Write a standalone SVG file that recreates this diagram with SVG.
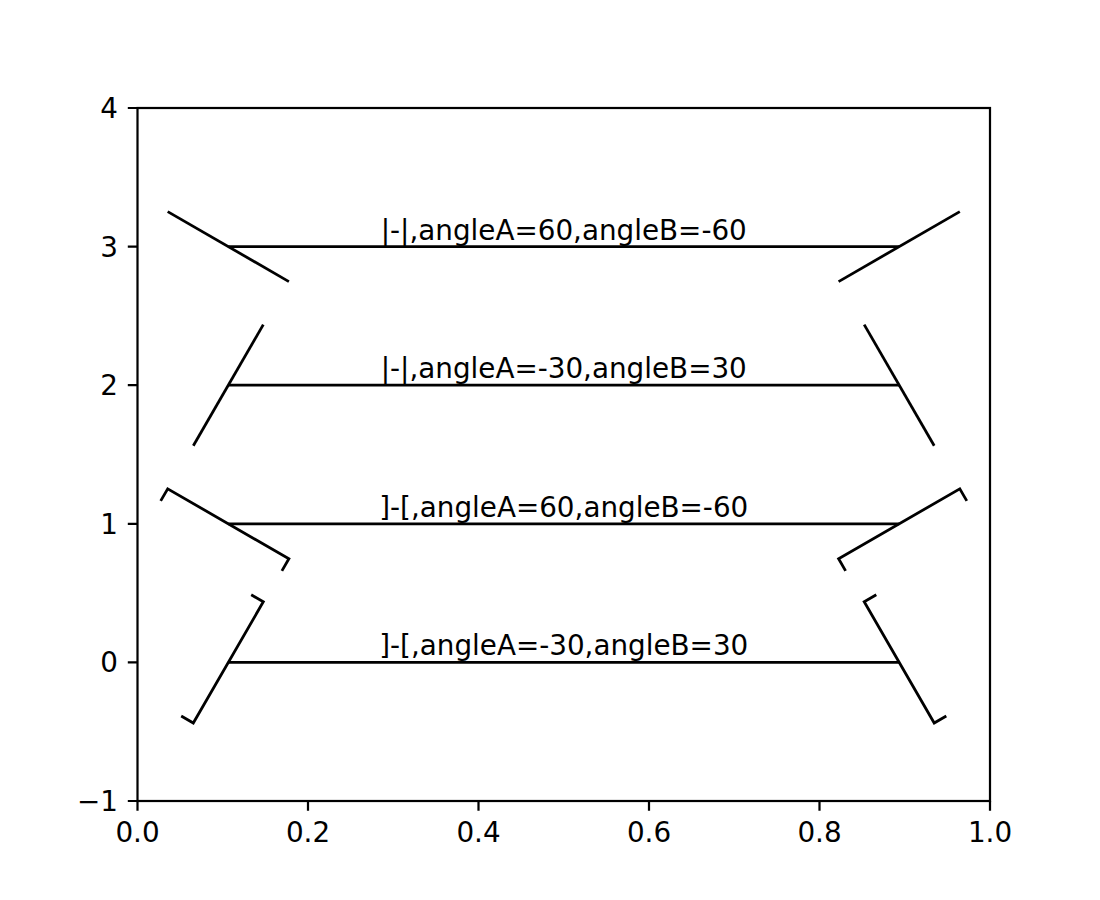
<svg xmlns="http://www.w3.org/2000/svg" width="1100" height="900" viewBox="0 0 1100 900">
<style>
.ax{fill:none;stroke:#000;stroke-width:2.22;stroke-linecap:square;}
.tk{stroke:#000;stroke-width:2.22;}
.ln{fill:none;stroke:#000;stroke-width:2.78;stroke-linecap:butt;stroke-linejoin:miter;}
.tl{font-family:"DejaVu Sans",sans-serif;font-size:27.8px;fill:#000;}
.lab{font-family:"DejaVu Sans",sans-serif;font-size:27.8px;fill:#000;text-anchor:middle;}
</style>
<rect width="1100" height="900" fill="#fff"/>
<g id="axes">
<rect class="ax" x="137.5" y="108" width="852.5" height="693"/>
<g id="xticks">
<path class="tk" d="M137.5 801v9.7M308 801v9.7M478.5 801v9.7M649 801v9.7M819.5 801v9.7M990 801v9.7"/>
<text class="tl" text-anchor="middle" x="137.5" y="842">0.0</text>
<text class="tl" text-anchor="middle" x="308" y="842">0.2</text>
<text class="tl" text-anchor="middle" x="478.5" y="842">0.4</text>
<text class="tl" text-anchor="middle" x="649" y="842">0.6</text>
<text class="tl" text-anchor="middle" x="819.5" y="842">0.8</text>
<text class="tl" text-anchor="middle" x="990" y="842">1.0</text>
</g>
<g id="yticks">
<path class="tk" d="M137.5 108h-9.7M137.5 246.6h-9.7M137.5 385.2h-9.7M137.5 523.8h-9.7M137.5 662.4h-9.7M137.5 801h-9.7"/>
<text class="tl" text-anchor="end" x="118" y="118">4</text>
<text class="tl" text-anchor="end" x="118" y="256.6">3</text>
<text class="tl" text-anchor="end" x="118" y="395.2">2</text>
<text class="tl" text-anchor="end" x="118" y="533.8">1</text>
<text class="tl" text-anchor="end" x="118" y="672.4">0</text>
<text class="tl" text-anchor="end" x="118" y="811">−1</text>
</g>
</g>
<g id="connectors">
<g id="arrow1">
<path class="ln" d="M228.3 246.6H899.2"/>
<path class="ln" d="M167.7 211.6L288.9 281.6"/>
<path class="ln" d="M838.6 281.6L959.8 211.6"/>
</g>
<g id="arrow2">
<path class="ln" d="M228.3 385.2H899.2"/>
<path class="ln" d="M193.3 445.8L263.3 324.6"/>
<path class="ln" d="M864.2 324.6L934.2 445.8"/>
</g>
<g id="arrow3">
<path class="ln" d="M228.3 523.8H899.2"/>
<path class="ln" d="M160.7 500.9L167.7 488.8L288.9 558.8L281.9 570.9"/>
<path class="ln" d="M845.6 570.9L838.6 558.8L959.8 488.8L966.8 500.9"/>
</g>
<g id="arrow4">
<path class="ln" d="M228.3 662.4H899.2"/>
<path class="ln" d="M181.2 716L193.3 723L263.3 601.8L251.2 594.8"/>
<path class="ln" d="M876.3 594.8L864.2 601.8L934.2 723L946.3 716"/>
</g>
</g>
<g id="label1"><text class="lab" x="563.75" y="239.6">|-|,angleA=60,angleB=-60</text></g>
<g id="label2"><text class="lab" x="563.75" y="378.2">|-|,angleA=-30,angleB=30</text></g>
<g id="label3"><text class="lab" x="563.75" y="516.8">]-[,angleA=60,angleB=-60</text></g>
<g id="label4"><text class="lab" x="563.75" y="655.4">]-[,angleA=-30,angleB=30</text></g>
</svg>
